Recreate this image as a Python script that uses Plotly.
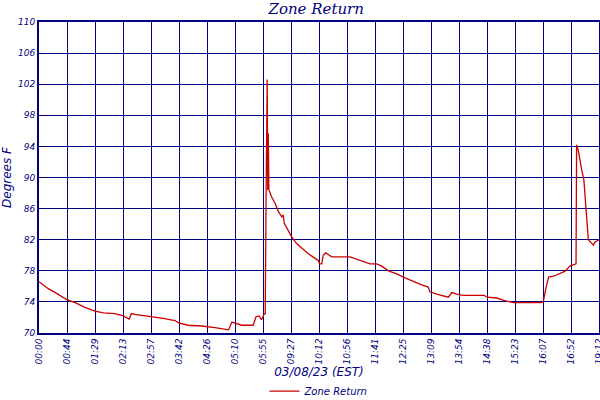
import plotly.graph_objects as go

tick_labels = ["00:00", "00:44", "01:29", "02:13", "02:57", "03:42", "04:26", "05:10",
               "05:55", "09:27", "10:12", "10:56", "11:41", "12:25", "13:09", "13:54",
               "14:38", "15:23", "16:07", "16:52", "19:12"]

x_pos = [0.0, 0.1, 0.33, 0.63, 0.99, 1.29, 1.64, 2.0, 2.3, 2.71, 3.01, 3.22, 3.3, 3.43,
         3.9, 4.38, 4.86, 4.98, 5.33, 5.81, 6.29, 6.77, 6.89, 7.0, 7.24, 7.65, 7.75, 7.86,
         7.95, 8.05, 8.08, 8.11, 8.15, 8.17, 8.19, 8.21, 8.31, 8.43, 8.55, 8.67, 8.72, 8.76,
         8.9, 9.02, 9.2, 9.38, 9.62, 9.86, 9.98, 10.02, 10.1, 10.15, 10.24, 10.33, 10.45,
         11.11, 11.35, 11.58, 11.82, 12.06, 12.24, 12.48, 12.78, 13.07, 13.37, 13.67, 13.9,
         13.96, 14.2, 14.56, 14.62, 14.74, 14.92, 15.15, 15.9, 16.0, 16.35, 16.6, 16.94,
         17.95, 18.01, 18.1, 18.2, 18.38, 18.6, 18.79, 18.96, 19.18, 19.2, 19.26, 19.38,
         19.46, 19.54, 19.6, 19.62, 19.8, 19.86, 20.0]

zone_return = [76.6, 76.3, 75.7, 75.1, 74.3, 73.9, 73.3, 72.8, 72.6, 72.5, 72.2, 71.8, 72.5, 72.4,
               72.2, 71.9, 71.6, 71.3, 71.0, 70.9, 70.7, 70.4, 71.4, 71.3, 71.0, 71.0, 72.1, 72.2,
               71.7, 72.5, 72.5, 87.3, 102.6, 88.4, 95.7, 88.4, 87.5, 86.7, 85.6, 84.95, 85.2, 84.1,
               83.2, 82.4, 81.5, 80.9, 80.2, 79.6, 79.3, 78.9, 78.9, 80.0, 80.3, 80.1, 79.8,
               79.8, 79.5, 79.2, 78.9, 78.9, 78.6, 78.0, 77.6, 77.1, 76.6, 76.2, 75.9,
               75.3, 75.0, 74.7, 74.6, 75.2, 75.0, 74.85, 74.85, 74.6, 74.5, 74.2, 73.9,
               73.9, 74.0, 75.7, 77.2, 77.3, 77.65, 77.95, 78.6, 78.9, 94.2, 93.5, 91.0,
               89.7, 85.8, 83.2, 82.0, 81.3, 81.7, 82.0]

y_ticks = list(range(70, 111, 4))

NAVY = "#000080"
RED = "#cc0000"

fig = go.Figure()
fig.add_trace(go.Scatter(x=x_pos, y=zone_return, mode="lines", name="Zone Return",
                         line=dict(color=RED, width=1.3)))

fig.update_layout(
    width=600, height=400,
    margin=dict(l=39, r=1, t=22, b=67, autoexpand=False),
    paper_bgcolor="white", plot_bgcolor="white",
    title=dict(text="Zone Return", x=0.527, xanchor="center", y=0.978, yanchor="middle",
               font=dict(family="DejaVu Serif", size=15, color=NAVY, style="italic")),
    showlegend=True,
    legend=dict(orientation="h", x=0.5, xanchor="center", y=-0.14, yanchor="top",
                font=dict(family="DejaVu Sans", size=10, color=NAVY, style="italic"),
                itemwidth=30),
    xaxis=dict(range=[0, 20], tickmode="array", tickvals=list(range(21)), ticktext=tick_labels,
               tickangle=-90, showgrid=True, gridcolor=NAVY, gridwidth=1, automargin=False,
               ticklabeloverflow="allow",
               showline=True, linecolor=NAVY, linewidth=2, mirror=True, ticks="",
               zeroline=False,
               tickfont=dict(family="DejaVu Sans", size=9, color=NAVY, style="italic"),
               title=dict(text="03/08/23 (EST)", standoff=0,
                          font=dict(family="DejaVu Sans", size=12, color=NAVY, style="italic"))),
    yaxis=dict(range=[70, 110], tickmode="array", tickvals=y_ticks, showgrid=True,
               gridcolor=NAVY, gridwidth=1, showline=True, linecolor=NAVY, linewidth=2,
               mirror=True, ticks="", zeroline=False, automargin=False,
               tickfont=dict(family="DejaVu Sans", size=9, color=NAVY, style="italic"),
               title=dict(text="Degrees F", standoff=4,
                          font=dict(family="DejaVu Sans", size=12, color=NAVY, style="italic"))),
)

fig.write_html("out.html", config={"displayModeBar": False},
               post_script="document.body.style.margin='0';")
